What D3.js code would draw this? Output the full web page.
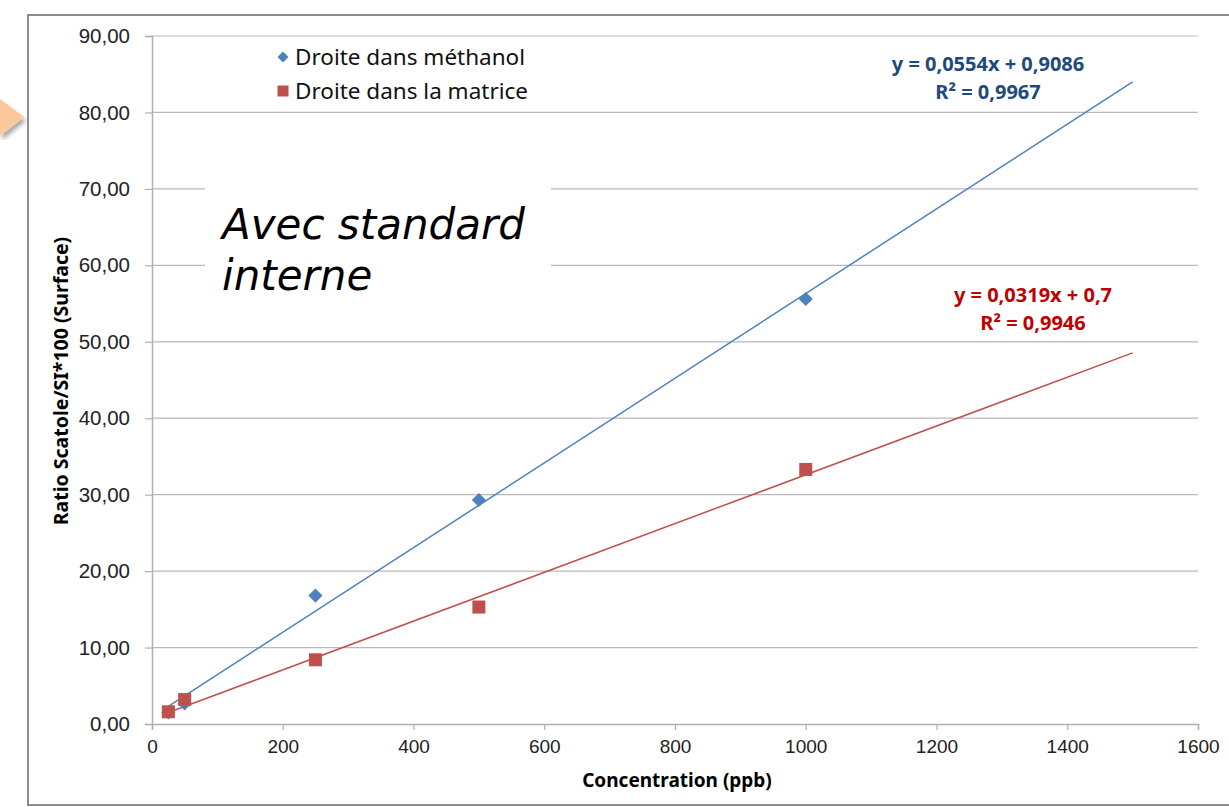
<!DOCTYPE html>
<html>
<head>
<meta charset="utf-8">
<script src="https://cdn.jsdelivr.net/npm/d3@7"></script>
<style>
  body { margin: 0; background: #fff; }
  svg { display: block; font-family: "Noto Sans", sans-serif; }
  .tick text { fill: #222; }
</style>
</head>
<body>
<div id="chart"></div>
<script>
(function () {
  // data
  const concentrations = [25, 50, 250, 500, 1000];
  const methanol = [1.5, 2.7, 16.8, 29.3, 55.6];
  const matrice = [1.6, 3.2, 8.4, 15.3, 33.3];
  const seriesNames = ["Droite dans méthanol", "Droite dans la matrice"];
  const fits = [
    { slope: 0.0554, intercept: 0.9086, eq: "y = 0,0554x + 0,9086", r2: "R² = 0,9967" },
    { slope: 0.0319, intercept: 0.7, eq: "y = 0,0319x + 0,7", r2: "R² = 0,9946" },
  ];
  const fitRange = [25, 1500];
  const xTicks = [0, 200, 400, 600, 800, 1000, 1200, 1400, 1600];
  const yTicks = [0, 10, 20, 30, 40, 50, 60, 70, 80, 90];

  const W = 1229, H = 807;
  const margin = { top: 36, right: 31, bottom: 83, left: 152 };
  const width = W - margin.left - margin.right;
  const height = H - margin.top - margin.bottom;

  const svg = d3.select("#chart").append("svg").attr("width", W).attr("height", H);

  // outer frame of the chart object
  svg.append("rect")
    .attr("x", 28).attr("y", 15)
    .attr("width", W).attr("height", 790)
    .attr("fill", "none").attr("stroke", "#8c8c8c").attr("stroke-width", 2);

  // orange arrow peeking from the left
  const defs = svg.append("defs");
  defs.append("filter").attr("id", "shadow")
    .append("feDropShadow")
    .attr("dx", 2).attr("dy", 4).attr("stdDeviation", 2)
    .attr("flood-color", "#000").attr("flood-opacity", 0.35);
  svg.append("path")
    .attr("d", "M0,99 L24,117 L0,136 Z")
    .attr("fill", "#fcc89b")
    .attr("filter", "url(#shadow)");

  const g = svg.append("g").attr("transform", `translate(${margin.left},${margin.top})`);

  const x = d3.scaleLinear().domain([0, 1600]).range([0, width]);
  const y = d3.scaleLinear().domain([0, 90]).range([height, 0]);

  // gridlines
  g.append("g")
    .selectAll("line")
    .data(yTicks.filter((d) => d > 0))
    .join("line")
    .attr("x1", 0).attr("x2", width)
    .attr("y1", (d) => y(d)).attr("y2", (d) => y(d))
    .attr("stroke", "#b9b9b9").attr("stroke-width", 1.2);

  // y axis
  const fmt = (d) => d3.format(".2f")(d).replace(".", ",");
  const yAxis = g.append("g")
    .call(d3.axisLeft(y).tickValues(yTicks).tickFormat(fmt).tickSize(7).tickPadding(15));
  yAxis.select(".domain").attr("stroke", "#b0b0b0").attr("stroke-width", 1.5);
  yAxis.selectAll(".tick line").attr("stroke", "#b0b0b0").attr("stroke-width", 1.2);
  yAxis.selectAll(".tick text").style("font-size", "20.5px");

  // x axis
  const xAxis = g.append("g")
    .attr("transform", `translate(0,${height})`)
    .call(d3.axisBottom(x).tickValues(xTicks).tickFormat(d3.format("d")).tickSize(6).tickPadding(10));
  xAxis.select(".domain").attr("stroke", "#b0b0b0").attr("stroke-width", 1.5);
  xAxis.selectAll(".tick line").attr("stroke", "#b0b0b0").attr("stroke-width", 1.2);
  xAxis.selectAll(".tick text").style("font-size", "19px");

  // white text box "Avec standard interne"
  g.append("rect")
    .attr("x", 53).attr("y", 143)
    .attr("width", 346).attr("height", 125)
    .attr("fill", "#fff");
  g.append("text")
    .attr("x", 70).attr("y", 203)
    .style("font-family", "DejaVu Sans, sans-serif")
    .style("font-style", "italic")
    .style("font-size", "42px")
    .selectAll("tspan")
    .data(["Avec standard", "interne"])
    .join("tspan")
    .attr("x", 70)
    .attr("dy", (d, i) => (i === 0 ? 0 : 51))
    .text((d) => d);

  const colors = ["#4f81bd", "#c0504d"];
  const labelColors = ["#1f497d", "#c00000"];

  // trend lines
  fits.forEach((f, i) => {
    g.append("line")
      .attr("x1", x(fitRange[0])).attr("y1", y(f.slope * fitRange[0] + f.intercept))
      .attr("x2", x(fitRange[1])).attr("y2", y(f.slope * fitRange[1] + f.intercept))
      .attr("stroke", colors[i]).attr("stroke-width", 1.5);
  });

  // methanol diamonds
  g.append("g")
    .selectAll("path")
    .data(concentrations.map((c, i) => [c, methanol[i]]))
    .join("path")
    .attr("transform", (d) => `translate(${x(d[0])},${y(d[1])}) rotate(45)`)
    .attr("d", "M-5,-5 H5 V5 H-5 Z")
    .attr("fill", colors[0]);

  // matrice squares
  g.append("g")
    .selectAll("rect")
    .data(concentrations.map((c, i) => [c, matrice[i]]))
    .join("rect")
    .attr("x", (d) => x(d[0]) - 6.5).attr("y", (d) => y(d[1]) - 6.5)
    .attr("width", 13).attr("height", 13)
    .attr("fill", colors[1]);

  // equation labels
  const eqPos = [[836, 35], [881, 266]];
  fits.forEach((f, i) => {
    const t = g.append("text")
      .attr("text-anchor", "middle")
      .attr("fill", labelColors[i])
      .style("font-size", "20px")
      .style("font-weight", "bold");
    t.append("tspan").attr("x", eqPos[i][0]).attr("y", eqPos[i][1]).text(f.eq);
    t.append("tspan").attr("x", eqPos[i][0]).attr("y", eqPos[i][1] + 28).text(f.r2);
  });

  // legend
  const legend = g.append("g").attr("transform", "translate(131,21)");
  seriesNames.forEach((name, i) => {
    const row = legend.append("g").attr("transform", `translate(0,${i * 34})`);
    if (i === 0) {
      row.append("path").attr("d", "M0,-5.5 L5.5,0 L0,5.5 L-5.5,0 Z").attr("fill", colors[0]);
    } else {
      row.append("rect").attr("x", -5.5).attr("y", -5.5).attr("width", 11).attr("height", 11).attr("fill", colors[1]);
    }
    row.append("text")
      .attr("x", 12).attr("y", 8)
      .style("font-size", "22.5px")
      .attr("fill", "#111")
      .text(name);
  });

  // axis titles
  svg.append("text")
    .attr("x", 677).attr("y", 787)
    .attr("text-anchor", "middle")
    .style("font-size", "19px").style("font-weight", "bold")
    .text("Concentration (ppb)");
  svg.append("text")
    .attr("transform", "translate(68,381) rotate(-90)")
    .attr("text-anchor", "middle")
    .style("font-size", "19.5px").style("font-weight", "bold")
    .text("Ratio Scatole/SI*100 (Surface)");
})();
</script>
</body>
</html>
